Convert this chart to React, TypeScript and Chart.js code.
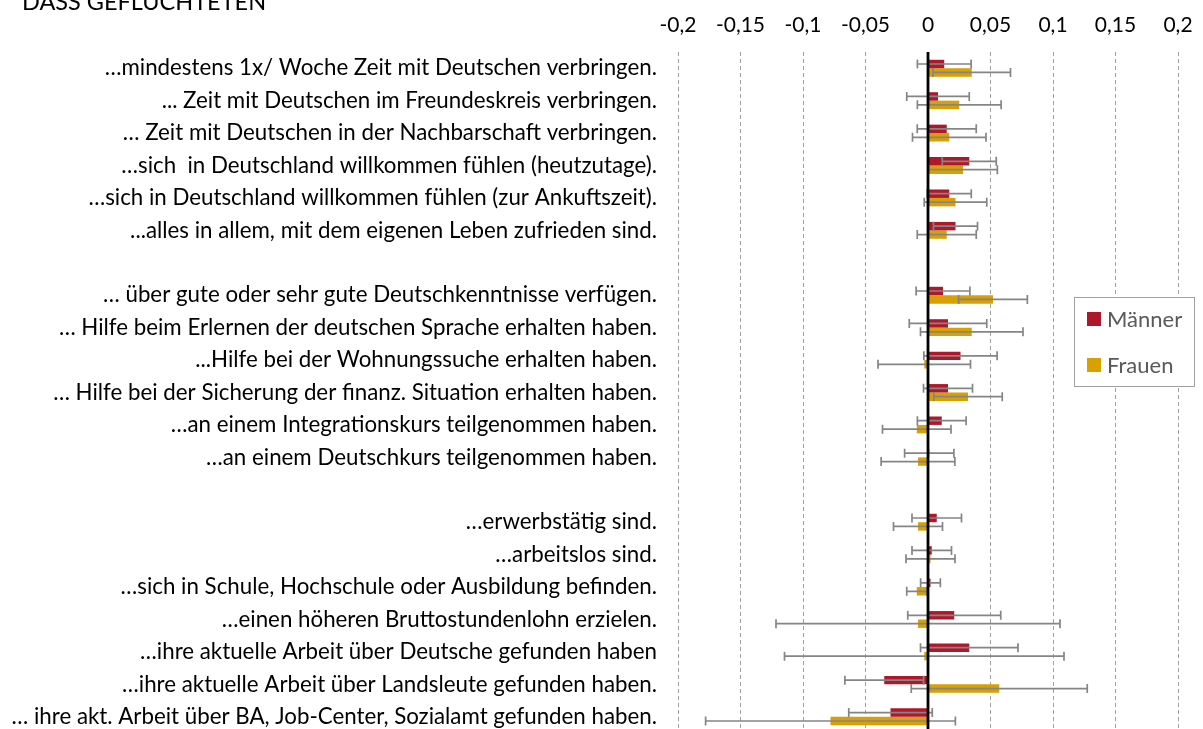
import React, { useEffect, useRef } from "react";
import { Chart, registerables } from "chart.js";

Chart.register(...registerables);

const categories: string[] = [
  "…mindestens 1x/ Woche Zeit mit Deutschen verbringen.",
  "... Zeit mit Deutschen im Freundeskreis verbringen.",
  "… Zeit mit Deutschen in der Nachbarschaft verbringen.",
  "…sich  in Deutschland willkommen fühlen (heutzutage).",
  "…sich in Deutschland willkommen fühlen (zur Ankuftszeit).",
  "...alles in allem, mit dem eigenen Leben zufrieden sind.",
  "",
  "… über gute oder sehr gute Deutschkenntnisse verfügen.",
  "… Hilfe beim Erlernen der deutschen Sprache erhalten haben.",
  "...Hilfe bei der Wohnungssuche erhalten haben.",
  "… Hilfe bei der Sicherung der finanz. Situation erhalten haben.",
  "…an einem Integrationskurs teilgenommen haben.",
  "…an einem Deutschkurs teilgenommen haben.",
  "",
  "…erwerbstätig sind.",
  "…arbeitslos sind.",
  "…sich in Schule, Hochschule oder Ausbildung befinden.",
  "…einen höheren Bruttostundenlohn erzielen.",
  "…ihre aktuelle Arbeit über Deutsche gefunden haben",
  "…ihre aktuelle Arbeit über Landsleute gefunden haben.",
  "… ihre akt. Arbeit über BA, Job-Center, Sozialamt gefunden haben.",
];

const maennerValues: (number | null)[] = [
  0.013, 0.008, 0.015, 0.033, 0.017, 0.022, null,
  0.012, 0.016, 0.026, 0.016, 0.011, 0.001, null,
  0.007, 0.003, 0.002, 0.021, 0.033, -0.035, -0.030,
];
const maennerErrors: (number | null)[] = [
  0.0215, 0.025, 0.0236, 0.0216, 0.0176, 0.0176, null,
  0.0215, 0.031, 0.0293, 0.0196, 0.0195, 0.0197, null,
  0.0198, 0.0158, 0.0079, 0.0372, 0.039, 0.0315, 0.0334,
];
const frauenValues: (number | null)[] = [
  0.035, 0.025, 0.017, 0.028, 0.022, 0.015, null,
  0.052, 0.035, -0.003, 0.032, -0.009, -0.008, null,
  -0.008, 0.002, -0.009, -0.008, -0.003, 0.057, -0.078,
];
const frauenErrors: (number | null)[] = [
  0.031, 0.0335, 0.0294, 0.0275, 0.025, 0.0236, null,
  0.0275, 0.041, 0.037, 0.0274, 0.0274, 0.0295, null,
  0.0196, 0.0196, 0.008, 0.1136, 0.1118, 0.0704, 0.0999,
];

const seriesNames = ["Männer", "Frauen"];
const seriesColors = ["#b0172a", "#d8a000"];
const titleText = "DASS GEFLÜCHTETEN";
const FONT = "Lato, 'Open Sans', sans-serif";

export default function App() {
  const ref = useRef<HTMLCanvasElement | null>(null);

  useEffect(() => {
    if (!ref.current) return;
    const errs = [maennerErrors, frauenErrors];

    const overlay = {
      id: "overlay",
      afterDatasetsDraw(chart: any) {
        const ctx = chart.ctx;
        const xs = chart.scales.x;
        const area = chart.chartArea;
        ctx.save();
        ctx.strokeStyle = "#858585";
        ctx.lineWidth = 1.7;
        chart.data.datasets.forEach((ds: any, di: number) => {
          const meta = chart.getDatasetMeta(di);
          meta.data.forEach((el: any, i: number) => {
            const v = ds.data[i];
            const e = errs[di][i];
            if (v == null || e == null) return;
            const y = el.y;
            const x1 = xs.getPixelForValue(v - e);
            const x2 = xs.getPixelForValue(v + e);
            ctx.beginPath();
            ctx.moveTo(x1, y);
            ctx.lineTo(x2, y);
            ctx.moveTo(x1, y - 4.5);
            ctx.lineTo(x1, y + 4.5);
            ctx.moveTo(x2, y - 4.5);
            ctx.lineTo(x2, y + 4.5);
            ctx.stroke();
          });
        });
        const x0 = xs.getPixelForValue(0);
        ctx.strokeStyle = "#000";
        ctx.lineWidth = 2.8;
        ctx.beginPath();
        ctx.moveTo(x0, area.top);
        ctx.lineTo(x0, area.bottom);
        ctx.stroke();
        ctx.restore();
      },
      afterDraw(chart: any) {
        const ctx = chart.ctx;
        ctx.save();
        ctx.fillStyle = "#000";
        ctx.font = `23.5px ${FONT}`;
        ctx.textAlign = "left";
        ctx.textBaseline = "alphabetic";
        ctx.fillText(titleText, 22, 10);
        ctx.fillStyle = "#fff";
        ctx.fillRect(1074, 297, 121, 90);
        ctx.strokeStyle = "#a0a0a0";
        ctx.lineWidth = 1;
        ctx.strokeRect(1074.5, 297.5, 120, 89);
        ctx.font = `22px ${FONT}`;
        ctx.textBaseline = "middle";
        const ys = [319, 365];
        seriesNames.forEach((n, i) => {
          ctx.fillStyle = seriesColors[i];
          ctx.fillRect(1087, ys[i] - 7, 14, 14);
          ctx.fillStyle = "#595959";
          ctx.fillText(n, 1107, ys[i] + 1);
        });
        ctx.restore();
      },
    };

    const chart = new Chart(ref.current, {
      type: "bar",
      data: {
        labels: categories,
        datasets: [
          {
            label: seriesNames[0],
            data: maennerValues,
            backgroundColor: seriesColors[0],
            borderWidth: 0,
            barPercentage: 1,
            categoryPercentage: 0.52,
          },
          {
            label: seriesNames[1],
            data: frauenValues,
            backgroundColor: seriesColors[1],
            borderWidth: 0,
            barPercentage: 1,
            categoryPercentage: 0.52,
          },
        ],
      },
      options: {
        indexAxis: "y",
        animation: false,
        responsive: false,
        maintainAspectRatio: false,
        layout: { padding: { left: 0, right: 25, top: 0, bottom: 0 } },
        plugins: {
          legend: { display: false },
          tooltip: { enabled: false },
          title: { display: false },
        },
        scales: {
          x: {
            position: "top",
            min: -0.2,
            max: 0.2,
            afterFit: (s: any) => {
              s.height = 52;
              s.paddingLeft = 0;
              s.paddingRight = 0;
            },
            ticks: {
              stepSize: 0.05,
              color: "#000",
              font: { family: FONT, size: 21 },
              padding: 14,
              maxRotation: 0,
              autoSkip: false,
              callback: (v: any) =>
                String(Number(Number(v).toFixed(2))).replace(".", ","),
            },
            grid: {
              drawTicks: false,
              color: (c: any) =>
                c.tick && Math.abs(c.tick.value) < 1e-9 ? "rgba(0,0,0,0)" : "#a0a0a0",
              lineWidth: 1,
            },
            border: { display: false, dash: [4, 3] },
          },
          y: {
            afterFit: (s: any) => {
              s.width = 678;
              s.paddingTop = 0;
              s.paddingBottom = 0;
            },
            ticks: {
              color: "#000",
              font: { family: FONT, size: 22.3 },
              padding: 21,
              autoSkip: false,
            },
            grid: { display: false, drawTicks: false },
            border: { display: false },
          },
        },
      },
      plugins: [overlay],
    });
    return () => chart.destroy();
  }, []);

  return (
    <div
      style={{
        position: "fixed",
        left: 0,
        top: 0,
        width: 1203,
        height: 729,
        overflow: "hidden",
        background: "#fff",
      }}
    >
      <canvas ref={ref} width={1203} height={733} style={{ display: "block" }} />
    </div>
  );
}
